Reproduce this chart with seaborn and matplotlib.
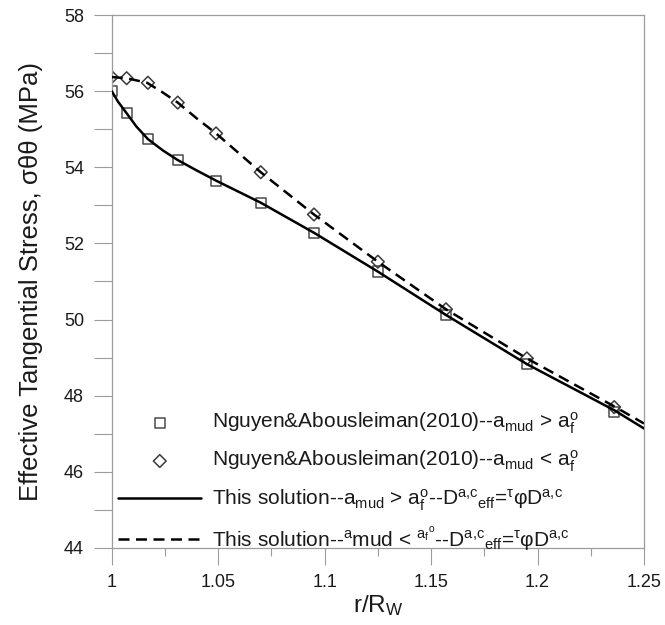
import numpy as np
import pandas as pd
import matplotlib
matplotlib.use("Agg")
import matplotlib.pyplot as plt
from matplotlib.ticker import MultipleLocator, FixedLocator, FixedFormatter
import seaborn as sns

# Radial positions of the published (Nguyen & Abousleiman, 2010) points
r_pub = [1.000, 1.007, 1.017, 1.031, 1.049, 1.070, 1.095, 1.125, 1.157, 1.195, 1.236]
stress_pub_gt = [56.00, 55.42, 54.74, 54.19, 53.65, 53.07, 52.28, 51.26, 50.12, 48.83, 47.58]
stress_pub_lt = [56.37, 56.34, 56.22, 55.70, 54.89, 53.87, 52.76, 51.52, 50.27, 48.98, 47.70]

# This solution, a_mud > a_f^o (solid curve)
r_sol_gt = [1.000, 1.003, 1.007, 1.0116, 1.017, 1.0241, 1.031, 1.0398, 1.049,
            1.070, 1.095, 1.125, 1.157, 1.195, 1.236, 1.250]
stress_sol_gt = [56.00, 55.72, 55.42, 55.07, 54.74, 54.44, 54.19, 53.92, 53.65,
                 53.07, 52.28, 51.26, 50.12, 48.83, 47.62, 47.14]

# This solution, a_mud < a_f^o (dashed curve)
r_sol_lt = [1.000, 1.007, 1.0166, 1.0233, 1.031, 1.0398, 1.049, 1.070, 1.095,
            1.125, 1.157, 1.195, 1.236, 1.250]
stress_sol_lt = [56.37, 56.34, 56.22, 55.99, 55.70, 55.29, 54.89, 53.87, 52.76,
                 51.52, 50.27, 48.98, 47.72, 47.27]

x_ticks = [1.0, 1.05, 1.1, 1.15, 1.2, 1.25]
x_ticklabels = ["1", "1.05", "1.1", "1.15", "1.2", "1.25"]
y_ticks = [44, 46, 48, 50, 52, 54, 56, 58]

label_pub_gt = r"Nguyen&Abousleiman(2010)--a$_\mathrm{mud}$ > a$_\mathrm{f}^\mathrm{o}$"
label_pub_lt = r"Nguyen&Abousleiman(2010)--a$_\mathrm{mud}$ < a$_\mathrm{f}^\mathrm{o}$"
label_sol_gt = (r"This solution--a$_\mathrm{mud}$ > a$_\mathrm{f}^\mathrm{o}$--"
                r"D$^\mathrm{a{,}c}{}_\mathrm{eff}$=$^\tau$φD$^\mathrm{a{,}c}$")
label_sol_lt = (r"This solution--$^\mathrm{a}$mud < $^{\mathrm{a}_\mathrm{f}\mathrm{^o}}$--"
                r"D$^\mathrm{a{,}c}{}_\mathrm{eff}$=$^\tau$φD$^\mathrm{a{,}c}$")

sns.set_theme(style="white")
plt.rcParams["font.family"] = ["Liberation Sans", "DejaVu Sans"]
plt.rcParams["mathtext.fontset"] = "custom"
plt.rcParams["mathtext.rm"] = "Liberation Sans"
plt.rcParams["mathtext.it"] = "Liberation Sans"
plt.rcParams["mathtext.bf"] = "Liberation Sans:bold"

TEXT = "#1a1a1a"
AXIS_GRAY = "#9c9c9c"

fig = plt.figure(figsize=(6.65, 6.25), dpi=100)
ax = fig.add_axes([0.168, 0.1232, 0.8004, 0.8528])

pub = pd.DataFrame({"r": r_pub, "gt": stress_pub_gt, "lt": stress_pub_lt})
sol_gt = pd.DataFrame({"r": r_sol_gt, "s": stress_sol_gt})
sol_lt = pd.DataFrame({"r": r_sol_lt, "s": stress_sol_lt})

sns.scatterplot(data=pub, x="r", y="gt", ax=ax, marker="s", s=54,
                facecolor="none", edgecolor="#4a4a4a", linewidth=1.1,
                zorder=2, label=label_pub_gt)
sns.scatterplot(data=pub, x="r", y="lt", ax=ax, marker="D", s=42,
                facecolor="none", edgecolor="#3a3a3a", linewidth=1.1,
                zorder=2, label=label_pub_lt)
sns.lineplot(data=sol_gt, x="r", y="s", ax=ax, color="black", lw=1.8,
             sort=False, estimator=None, zorder=3, label=label_sol_gt)
sns.lineplot(data=sol_lt, x="r", y="s", ax=ax, color="black", lw=1.8,
             sort=False, estimator=None, zorder=3, label=label_sol_lt)
ax.lines[-1].set_dashes((4.4, 2.6))

ax.set_xlim(1.0, 1.25)
ax.set_ylim(44, 58)
ax.xaxis.set_major_locator(FixedLocator(x_ticks))
ax.xaxis.set_major_formatter(FixedFormatter(x_ticklabels))
ax.xaxis.set_minor_locator(MultipleLocator(0.025))
ax.yaxis.set_major_locator(FixedLocator(y_ticks))
ax.yaxis.set_minor_locator(MultipleLocator(1))

for sp in ax.spines.values():
    sp.set_color(AXIS_GRAY)
    sp.set_linewidth(0.9)

ax.tick_params(axis="y", which="both", direction="out", length=13, width=0.8,
               color=AXIS_GRAY, left=True, labelsize=13, labelcolor=TEXT, pad=7)
ax.tick_params(axis="x", which="major", direction="out", length=12, width=0.8,
               color=AXIS_GRAY, bottom=True, labelsize=13, labelcolor=TEXT, pad=7)
ax.tick_params(axis="x", which="minor", direction="out", length=6, width=0.8,
               color=AXIS_GRAY, bottom=True)

ax.set_xlabel(r"r/R$_\mathrm{W}$", fontsize=17.5, color=TEXT, labelpad=1)
ax.set_ylabel("Effective Tangential Stress, σθθ (MPa)", fontsize=18.5,
              color=TEXT, labelpad=15)

handles, labels = ax.get_legend_handles_labels()
leg = ax.legend(handles, labels, loc="lower left", bbox_to_anchor=(0.012, -0.01),
                frameon=False, fontsize=15, handlelength=4.0, handletextpad=0.5,
                labelspacing=0.62, borderpad=0, borderaxespad=0, scatterpoints=1)
for t in leg.get_texts():
    t.set_color(TEXT)

fig.savefig("out.png", dpi=100)
